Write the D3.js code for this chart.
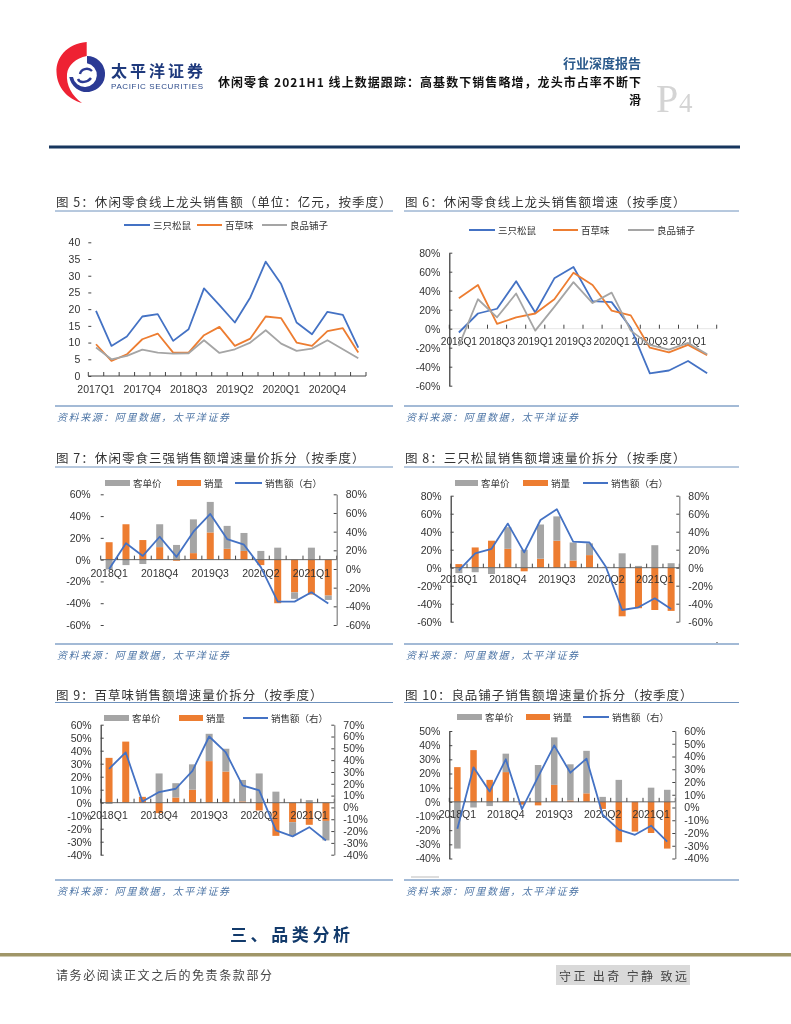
<!DOCTYPE html>
<html><head><meta charset="utf-8">
<script src="https://cdn.jsdelivr.net/npm/d3@7/dist/d3.min.js"></script>
<style>
html,body{margin:0;padding:0;background:#fff}
svg{display:block;filter:blur(0.3px)}
text{font-family:"Noto Sans CJK SC",sans-serif}
.num text,text.num{font-family:"Liberation Sans",sans-serif;fill:#333;font-size:10.5px}
.num.narrow text{font-size:10.2px}
</style></head><body>
<svg id="page" width="791" height="1024"></svg>
<script>
// ---------- data ----------
const quartersLong = ["2017Q1","2017Q2","2017Q3","2017Q4","2018Q1","2018Q2","2018Q3","2018Q4","2019Q1","2019Q2","2019Q3","2019Q4","2020Q1","2020Q2","2020Q3","2020Q4","2021Q1","2021Q2"];
const quartersShort = ["2018Q1","2018Q2","2018Q3","2018Q4","2019Q1","2019Q2","2019Q3","2019Q4","2020Q1","2020Q2","2020Q3","2020Q4","2021Q1","2021Q2"];

const fig5Squirrels = [19.5,9,11.8,17.8,18.5,10.5,14,26.2,21.2,16,23.5,34.2,27.5,16,12.5,19.2,18.3,8.5];
const fig5Baicao = [9.5,4.5,6.5,11,12.7,7,7,12.2,14.7,9,11.2,17.8,17.3,10,9,13.4,14.3,7];
const fig5Liangpin = [8.5,5,6,7.9,7,6.7,6.8,10.7,6.9,8,10,13.7,9.7,7.5,8.2,10.7,8,5.3];

const fig6Squirrels = [-4,16,21,50,17,53,65,29,28,1,-47,-44,-34,-47];
const fig6Baicao = [32,46,5,12,16,31,59,46,19,14,-20,-25,-17,-28];
const fig6Liangpin = [-18,31,12,37,-2,23,49,27,38,-2,-17,-22,-15,-27];

const fig7Price = [-9,-5,-4,21,13.5,31,28,21,16.5,8,11,-6,11,-4];
const fig7Volume = [16,32.5,18,11.5,-1,6,25,10,8,-5,-40,-30,-32,-33];
const fig7Sales = [0,27.6,14,34.5,13,40,59,32,26,2,-35,-35,-25,-37];

const fig8Price = [-6,-5,-7,24,20,38,27,20,13,1,16,2,25,5];
const fig8Volume = [4,22.5,30,21,-4,10,30,8,14,0,-54,-45,-47,-48];
const fig8Sales = [-3,16,21,49,17,53,65,29,28,1,-47,-44,-34,-46];

const fig9Price = [-1,0,0,22.5,11,19.5,21,17.5,16.5,22.5,8.5,-10,2,-15];
const fig9Volume = [34.5,47,4.5,-8,4,10,32,24,1,-6,-25.5,-15,-17,-14];
const fig9Sales = [32.7,46.5,5,13,15.8,31,60,46.5,18.6,14.4,-19.4,-24.5,-16.7,-28];

const fig10Price = [-33,-4,-3,13,0,26,33.5,25.5,30,3.5,15.5,0,10,8.5];
const fig10Volume = [24.5,36.5,15.5,21,-2,-2.5,12,1,6,-5,-28.5,-21,-22,-33];
const fig10Sales = [-16.7,31.5,12.5,37.8,-1.3,24,48.7,27.3,38.3,-5.7,-17.4,-21.4,-14.3,-26.8];

const brandNames = ["三只松鼠","百草味","良品铺子"];
const splitNames = ["客单价","销量","销售额\uFF08右\uFF09"];
const sourceText = "资料来源\uFF1A阿里数据\uFF0C太平洋证券";

// ---------- styles ----------
const BLUE="#4472c4", ORANGE="#ed7d31", GRAY="#a5a5a5";
const svg=d3.select("#page");
const pct=d=>d+"%";

function panel(t){
  svg.append("text").attr("x",t.x+1).attr("y",t.titleY).attr("dominant-baseline","central")
    .attr("font-size",12.5).attr("fill","#333").attr("textLength",t.titleW).attr("lengthAdjust","spacing").text(t.title);
  svg.append("line").attr("x1",t.x).attr("x2",t.x+t.w).attr("y1",t.ruleY).attr("y2",t.ruleY).attr("stroke","#6f92bd").attr("stroke-width",1);
  svg.append("line").attr("x1",t.x).attr("x2",t.x+t.w).attr("y1",t.srcY).attr("y2",t.srcY).attr("stroke","#85a3c9").attr("stroke-width",1.5);
  svg.append("text").attr("x",t.x+2).attr("y",t.srcY+10.5).attr("dominant-baseline","central")
    .attr("font-size",10).attr("font-style","italic").attr("fill","#4d75a6").attr("textLength",172).attr("lengthAdjust","spacing").text(sourceText);
}

function legend(items){
  items.forEach(it=>{
    if(it.kind==="line") svg.append("line").attr("x1",it.x0).attr("x2",it.x1).attr("y1",it.y).attr("y2",it.y).attr("stroke",it.color).attr("stroke-width",2);
    else svg.append("rect").attr("x",it.x0).attr("width",it.x1-it.x0).attr("y",it.y-3).attr("height",6).attr("fill",it.color);
    svg.append("text").attr("x",it.x1+3).attr("y",it.y).attr("dominant-baseline","central").attr("font-size",it.fs||9.5).attr("fill","#333").text(it.label);
  });
}

function catAxis(g,x,y0,labelY,every,axisColor,narrow){
  const edges=x.domain().map(d=>x(d)).concat(x.range()[1]);
  g.append("line").attr("x1",x.range()[0]).attr("x2",x.range()[1]).attr("y1",y0).attr("y2",y0).attr("stroke",axisColor).attr("stroke-width",1);
  g.selectAll(null).data(edges).enter().append("line").attr("x1",d=>d).attr("x2",d=>d).attr("y1",y0-4).attr("y2",y0).attr("stroke","#444").attr("stroke-width",1);
  const ax=d3.axisBottom(x).tickSize(0).tickPadding(0).tickValues(x.domain().filter((d,i)=>i%every===0));
  const a=g.append("g").attr("class",narrow?"num narrow":"num").attr("transform",`translate(0,${labelY})`).call(ax);
  a.select(".domain").remove();
  a.selectAll("text").attr("dy",null).attr("y",0).attr("dominant-baseline","central").attr("font-size",null);
  a.attr("font-size",null).attr("font-family",null);
}

function valAxis(g,scale,xpos,side,values,fmt,showLine,padding,lineColor){
  const ax=(side==="left"?d3.axisLeft:d3.axisRight)(scale).tickValues(values).tickFormat(fmt).tickSize(-3).tickSizeOuter(0).tickPadding(padding);
  const a=g.append("g").attr("class","num").attr("transform",`translate(${xpos},0)`).call(ax);
  a.attr("font-size",null).attr("font-family",null);
  a.selectAll("text").attr("font-size",null);
  a.selectAll(".tick line").attr("stroke","#444");
  if(showLine) a.select(".domain").attr("stroke",lineColor).attr("stroke-width",1.2);
  else a.select(".domain").remove();
}

function drawLine(g,x,y,vals,cats,color,w){
  g.append("path").datum(vals).attr("fill","none").attr("stroke",color).attr("stroke-width",w||1.8).attr("stroke-linejoin","round")
   .attr("d",d3.line().x((d,i)=>x(cats[i])+x.bandwidth()/2).y(d=>y(d)));
}

function lineChart(c){
  const g=svg.append("g");
  const x=d3.scaleBand().domain(c.cats).range([c.x0,c.x1]);
  const y=d3.scaleLinear().domain(c.domain).range([c.yBottom,c.yTop]);
  catAxis(g,x,y(0),c.labelY,c.every,c.axisColor,c.narrow);
  valAxis(g,y,c.x0,"left",c.ticks,c.fmt,c.showLeft,c.pad,"#333");
  c.series.forEach(s=>drawLine(g,x,y,s.values,c.cats,s.color,1.8));
}

function comboChart(c){
  const g=svg.append("g");
  const x=d3.scaleBand().domain(quartersShort).range([c.x0,c.x1]);
  const yL=d3.scaleLinear().domain(c.leftDomain).range([c.yBottom,c.yTop]);
  const yR=d3.scaleLinear().domain(c.rightDomain).range([c.yBottom,c.yTop]);
  const rows=quartersShort.map((q,i)=>({q,volume:c.volume[i],price:c.price[i]}));
  const stack=d3.stack().keys(["volume","price"]).offset(d3.stackOffsetDiverging)(rows);
  const colors={volume:ORANGE,price:GRAY};
  stack.forEach(layer=>{
    g.selectAll(null).data(layer).enter().append("rect")
      .attr("x",d=>x(d.data.q)+x.bandwidth()/2-c.barW/2).attr("width",c.barW)
      .attr("y",d=>Math.min(yL(d[0]),yL(d[1]))).attr("height",d=>Math.abs(yL(d[0])-yL(d[1])))
      .attr("fill",colors[layer.key]);
  });
  catAxis(g,x,yL(0),c.labelY,3,"#666");
  valAxis(g,yL,c.x0,"left",c.leftTicks,pct,c.showLeft,c.padL,"#333");
  valAxis(g,yR,c.x1,"right",c.rightTicks,pct,true,c.padR,"#808080");
  drawLine(g,x,yR,c.sales,quartersShort,BLUE,1.8);
}

// ---------- header ----------
svg.append("path").attr("fill","#ee2233").attr("d","M86.7,42 C66,44 56,58 56.5,72 C57,88 68,99 82,103 C72,96 66,85 67,74 C68,65 76,58 86.7,56 Z");
svg.append("path").attr("fill","#2b3a94").attr("d","M87,56 A18,18 0 1 1 69.3,77 L73,77 A12,12 0 1 0 87,63.2 Z");
svg.append("path").attr("fill","none").attr("stroke","#2b3a94").attr("stroke-width",2.4).attr("d","M78,79 C80,84 88,82 91,78 M92,71 C88,67 81,69 80,74");
svg.append("text").attr("x",111).attr("y",70).attr("dominant-baseline","central").attr("font-size",16).attr("font-weight",700).attr("fill","#1f3a7d").attr("textLength",92).attr("lengthAdjust","spacing").text("太平洋证券");
svg.append("text").attr("x",111).attr("y",86).attr("dominant-baseline","central").attr("font-size",8).style("font-family","'Liberation Sans'").attr("fill","#2c4a8a").attr("textLength",92).attr("lengthAdjust","spacing").text("PACIFIC SECURITIES");
svg.append("text").attr("x",641).attr("y",62.5).attr("text-anchor","end").attr("dominant-baseline","central").attr("font-size",13).attr("font-weight",700).attr("fill","#2b5a8c").text("行业深度报告");
svg.append("text").attr("x",218).attr("y",81).attr("dominant-baseline","central").attr("font-size",12).attr("font-weight",700).attr("fill","#111").attr("textLength",423).attr("lengthAdjust","spacing").text("休闲零食 2021H1 线上数据跟踪\uFF1A高基数下销售略增\uFF0C龙头市占率不断下");
svg.append("text").attr("x",641).attr("y",99.5).attr("text-anchor","end").attr("dominant-baseline","central").attr("font-size",12).attr("font-weight",700).attr("fill","#111").text("滑");
svg.append("text").attr("x",656).attr("y",112).style("font-family","'Liberation Serif'").attr("font-size",40).attr("fill","#d4d4d4").text("P");
svg.append("text").attr("x",679).attr("y",112).style("font-family","'Liberation Serif'").attr("font-size",27).attr("fill","#d4d4d4").text("4");
svg.append("rect").attr("x",49).attr("y",145.5).attr("width",691).attr("height",3).attr("fill","#17375e");

// ---------- panels ----------
const L={x:55,w:338}, R={x:404,w:335};
panel({...L,title:"图 5\uFF1A休闲零食线上龙头销售额\uFF08单位\uFF1A亿元\uFF0C按季度\uFF09",titleW:335.5,titleY:201,ruleY:211,srcY:406});
panel({...R,title:"图 6\uFF1A休闲零食线上龙头销售额增速\uFF08按季度\uFF09",titleW:280.5,titleY:201,ruleY:211,srcY:406});
panel({...L,title:"图 7\uFF1A休闲零食三强销售额增速量价拆分\uFF08按季度\uFF09",titleW:308.5,titleY:457,ruleY:467,srcY:644});
panel({...R,title:"图 8\uFF1A三只松鼠销售额增速量价拆分\uFF08按季度\uFF09",titleW:280.5,titleY:457,ruleY:467,srcY:644});
panel({...L,title:"图 9\uFF1A百草味销售额增速量价拆分\uFF08按季度\uFF09",titleW:266.5,titleY:694,ruleY:702.5,srcY:880});
panel({...R,title:"图 10\uFF1A良品铺子销售额增速量价拆分\uFF08按季度\uFF09",titleW:287.5,titleY:694,ruleY:702.5,srcY:880});
svg.append("line").attr("x1",411).attr("x2",439).attr("y1",877).attr("y2",877).attr("stroke","#bbb");
svg.append("line").attr("x1",716).attr("x2",718).attr("y1",642.5).attr("y2",642.5).attr("stroke","#999");

// ---------- legends ----------
legend([{kind:"line",x0:124,x1:150,y:225,color:BLUE,label:brandNames[0]},{kind:"line",x0:197,x1:222,y:225,color:ORANGE,label:brandNames[1]},{kind:"line",x0:262,x1:287,y:225,color:GRAY,label:brandNames[2]}]);
legend([{kind:"line",x0:469,x1:495,y:230,color:BLUE,label:brandNames[0]},{kind:"line",x0:553,x1:578,y:230,color:ORANGE,label:brandNames[1]},{kind:"line",x0:628,x1:654,y:230,color:GRAY,label:brandNames[2]}]);
legend([{kind:"rect",x0:105,x1:130,y:483,color:GRAY,label:splitNames[0]},{kind:"rect",x0:177,x1:201,y:483,color:ORANGE,label:splitNames[1]},{kind:"line",x0:235,x1:262,y:483,color:BLUE,label:splitNames[2]}]);
legend([{kind:"rect",x0:455,x1:478,y:483,color:GRAY,label:splitNames[0]},{kind:"rect",x0:523,x1:548,y:483,color:ORANGE,label:splitNames[1]},{kind:"line",x0:583,x1:608,y:483,color:BLUE,label:splitNames[2]}]);
legend([{kind:"rect",x0:104,x1:129,y:718,color:GRAY,label:splitNames[0]},{kind:"rect",x0:179,x1:203,y:718,color:ORANGE,label:splitNames[1]},{kind:"line",x0:243,x1:268,y:718,color:BLUE,label:splitNames[2]}]);
legend([{kind:"rect",x0:457,x1:482,y:717,color:GRAY,label:splitNames[0]},{kind:"rect",x0:526,x1:550,y:717,color:ORANGE,label:splitNames[1]},{kind:"line",x0:583,x1:609,y:717,color:BLUE,label:splitNames[2]}]);

// ---------- charts ----------
lineChart({cats:quartersLong,x0:88.3,x1:366,yBottom:376,yTop:242.3,domain:[0,40],ticks:d3.range(0,41,5),fmt:d=>d,every:3,labelY:389,axisColor:"#444",showLeft:false,pad:8,
  series:[{values:fig5Squirrels,color:BLUE},{values:fig5Baicao,color:ORANGE},{values:fig5Liangpin,color:GRAY}]});
lineChart({cats:quartersShort,x0:449.3,x1:716.7,yBottom:385.7,yTop:252.7,domain:[-60,80],ticks:d3.range(-60,81,20),fmt:pct,every:2,labelY:341,axisColor:"#e6e6e6",showLeft:true,pad:9,narrow:true,
  series:[{values:fig6Squirrels,color:BLUE},{values:fig6Baicao,color:ORANGE},{values:fig6Liangpin,color:GRAY}]});

comboChart({x0:100.7,x1:336.7,yTop:494.3,yBottom:625,leftDomain:[-60,60],rightDomain:[-60,80],leftTicks:d3.range(-60,61,20),rightTicks:d3.range(-60,81,20),
  price:fig7Price,volume:fig7Volume,sales:fig7Sales,barW:7,labelY:572.7,showLeft:false,padL:10,padR:9});
comboChart({x0:450.7,x1:679.3,yTop:495.7,yBottom:621.7,leftDomain:[-60,80],rightDomain:[-60,80],leftTicks:d3.range(-60,81,20),rightTicks:d3.range(-60,81,20),
  price:fig8Price,volume:fig8Volume,sales:fig8Sales,barW:7,labelY:579,showLeft:true,padL:9,padR:9});
comboChart({x0:100.7,x1:334.3,yTop:724.7,yBottom:854.7,leftDomain:[-40,60],rightDomain:[-40,70],leftTicks:d3.range(-40,61,10),rightTicks:d3.range(-40,71,10),
  price:fig9Price,volume:fig9Volume,sales:fig9Sales,barW:7,labelY:815,showLeft:true,padL:9,padR:9});
comboChart({x0:449.3,x1:675.3,yTop:731,yBottom:858.5,leftDomain:[-40,50],rightDomain:[-40,60],leftTicks:d3.range(-40,51,10),rightTicks:d3.range(-40,61,10),
  price:fig10Price,volume:fig10Volume,sales:fig10Sales,barW:6.5,labelY:814,showLeft:true,padL:9,padR:9});

// ---------- footer ----------
svg.append("text").attr("x",230).attr("y",933).attr("dominant-baseline","central").attr("font-size",17).attr("font-weight",700).attr("fill","#123a6b").attr("textLength",120).attr("lengthAdjust","spacing").text("三、品类分析");
svg.append("rect").attr("x",0).attr("y",953).attr("width",791).attr("height",3.5).attr("fill","#a09668");
svg.append("text").attr("x",56).attr("y",974).attr("dominant-baseline","central").attr("font-size",12).attr("fill","#444").attr("textLength",216).attr("lengthAdjust","spacing").text("请务必阅读正文之后的免责条款部分");
svg.append("rect").attr("x",556).attr("y",965).attr("width",134).attr("height",20).attr("fill","#d9d9d9");
svg.append("text").attr("x",559).attr("y",975).attr("dominant-baseline","central").attr("font-size",12).attr("fill","#444").attr("textLength",128).attr("lengthAdjust","spacing").text("守正 出奇 宁静 致远");
</script></body></html>
